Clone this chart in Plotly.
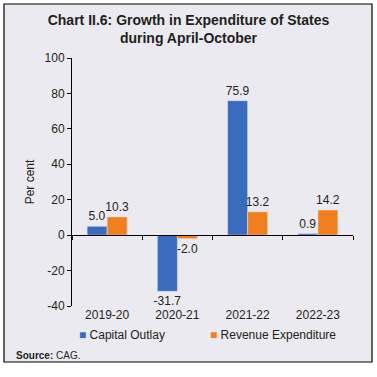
import plotly.graph_objects as go

years = ["2019-20", "2020-21", "2021-22", "2022-23"]
capital_outlay = [5.0, -31.7, 75.9, 0.9]
revenue_exp = [10.3, -2.0, 13.2, 14.2]
y_ticks = [-40, -20, 0, 20, 40, 60, 80, 100]
series_names = ["Capital Outlay", "Revenue Expenditure"]

BLUE = "#3A6BBD"
ORANGE = "#F07F22"
TXT = "#231f20"
FONT = "Arial"

fig = go.Figure()
fig.add_trace(go.Bar(x=years, y=capital_outlay, name=series_names[0], marker_color=BLUE,
                     text=[f"{v:.1f}" for v in capital_outlay], textposition="outside",
                     textfont=dict(size=12, color=TXT), cliponaxis=False, constraintext="none",
                     showlegend=False))
fig.add_trace(go.Bar(x=years, y=revenue_exp, name=series_names[1], marker_color=ORANGE,
                     text=[f"{v:.1f}" for v in revenue_exp], textposition="outside",
                     textfont=dict(size=12, color=TXT), cliponaxis=False, constraintext="none",
                     showlegend=False))
# invisible trace to hold the zero-line axis
fig.add_trace(go.Scatter(x=[-0.5, 3.5], y=[0, 0], xaxis="x2", mode="lines",
                         line=dict(width=0), showlegend=False, hoverinfo="skip"))

fig.update_layout(
    width=377, height=377,
    margin=dict(l=72, r=24, t=58, b=71),
    paper_bgcolor="white", plot_bgcolor="rgba(0,0,0,0)",
    font=dict(family=FONT, color=TXT, size=12),
    barmode="group", bargap=0.43, bargroupgap=0,
    showlegend=False,
    title=dict(text="<b>Chart II.6: Growth in Expenditure of States<br>during April-October</b>",
               x=0.5, xanchor="center", y=0.933, yanchor="middle",
               font=dict(size=14, color=TXT, family=FONT)),
    xaxis=dict(showline=False, ticks="", showgrid=False, zeroline=False, automargin=False,
               tickfont=dict(size=12, color=TXT), range=[-0.5, 3.5]),
    xaxis2=dict(overlaying="x", anchor="free", position=40/140, range=[-0.5, 3.5],
                showline=True, linecolor="black", linewidth=1, ticks="outside",
                ticklen=4, tickcolor="black", tickvals=[-0.5, 0.5, 1.5, 2.5, 3.5],
                showticklabels=False, showgrid=False, zeroline=False, automargin=False),
    yaxis=dict(range=[-40, 100], tickvals=y_ticks, ticktext=[str(v) for v in y_ticks],
               showline=True, linecolor="black", automargin=False,
               linewidth=1, ticks="outside", ticklen=4, tickcolor="black",
               showgrid=False, zeroline=False, tickfont=dict(size=12, color=TXT),
               title=dict(text="Per cent", font=dict(size=12, color=TXT), standoff=7)),
)

# background panel with border
fig.add_shape(type="rect", xref="paper", yref="paper",
              x0=(4-72)/281, x1=(372-72)/281, y0=(306-362)/248, y1=(306-4)/248,
              fillcolor="#EBEAF0", line=dict(color="black", width=1.2), layer="below")

# legend drawn as text entries
for name, color, px in zip(series_names, [BLUE, ORANGE], [77, 208]):
    fig.add_annotation(text=f"<span style='color:{color}'>■</span> {name}",
                       xref="paper", yref="paper", x=(px-72)/281, y=(306-335)/248,
                       xanchor="left", yanchor="middle", showarrow=False,
                       font=dict(size=12, color=TXT, family=FONT))

fig.add_annotation(text="<b>Source:</b> CAG.", xref="paper", yref="paper",
                   x=(14-72)/281, y=(306-355)/248, xanchor="left", yanchor="middle",
                   showarrow=False, font=dict(size=10, color=TXT, family=FONT))

fig.write_html("out.html", config={"displayModeBar": False},
               post_script="document.body.style.margin='0';")
